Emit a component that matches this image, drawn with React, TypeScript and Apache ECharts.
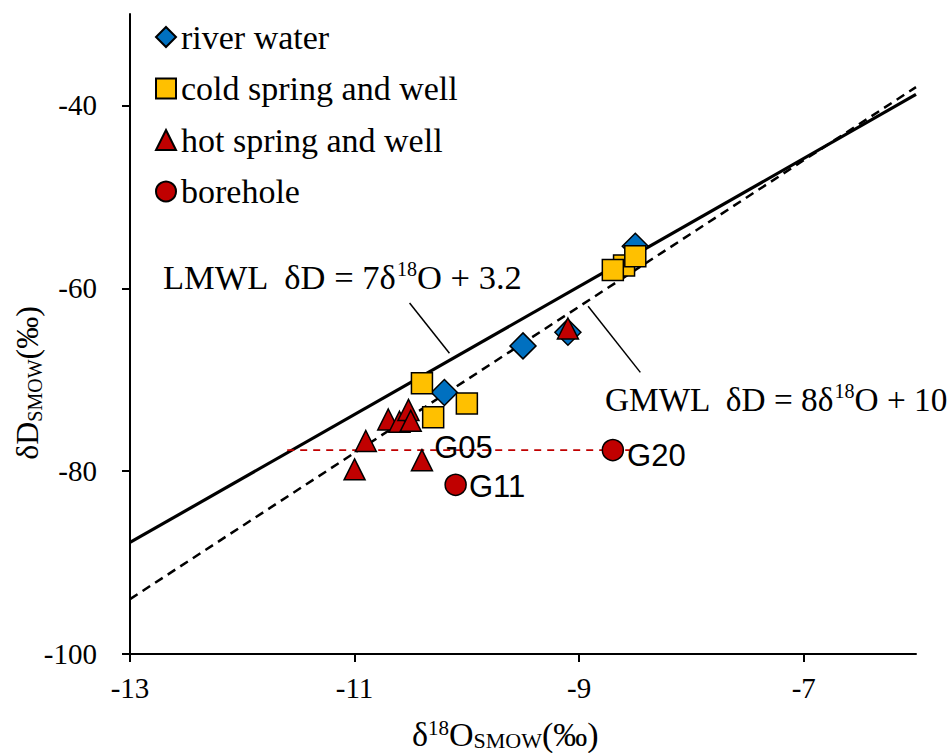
import React, { useEffect, useRef } from 'react';
import * as echarts from 'echarts';

// ---- data ----
const xTicks = [-13, -11, -9, -7];
const yTicks = [-100, -80, -60, -40];

const riverWater = [
  [-8.5, -55.4],
  [-9.5, -66.3],
  [-9.1, -64.8],
  [-10.2, -71.4],
];
const coldSpring = [
  [-10.4, -70.4],
  [-10.3, -74.1],
  [-10.0, -72.6],
  [-8.6, -57.5],
  [-8.7, -58.0],
  [-8.5, -56.5],
];
const hotSpring = [
  [-11.0, -79.8],
  [-10.9, -76.7],
  [-10.4, -78.8],
  [-10.7, -74.35],
  [-10.6, -74.6],
  [-10.52, -73.3],
  [-10.5, -74.5],
  [-9.1, -64.4],
];
const hotLabels = ['', '', 'G05', '', '', '', '', ''];
const borehole = [
  [-10.1, -81.5],
  [-8.7, -77.7],
];
const boreholeLabels = ['G11', 'G20'];

const lmwlLine = [[-13, -87.8], [-6, -38.8]];
const gmwlLine = [[-13, -94], [-6, -38]];
const g20Level = [[-11.6, -77.7], [-8.5, -77.7]];
const lmwlLeader = [[-10.51, -61.6], [-10.155, -67.1]];
const gmwlLeader = [[-8.92, -61.96], [-8.455, -69.2]];

const seriesNames = ['river water', 'cold spring and well', 'hot spring and well', 'borehole'];

// ---- styles ----
const SERIF = 'Liberation Serif';
const SANS = 'Liberation Sans';
const labelOffsets: Record<string, number[]> = {
  G05: [0, -13],
  G11: [1, 2],
  G20: [2, 5],
};

const richStyles = {
  sup: { fontSize: 20, fontFamily: SERIF, verticalAlign: 'top', lineHeight: 20, fill: '#000', color: '#000' },
  sub: { fontSize: 20, fontFamily: SERIF, verticalAlign: 'bottom', lineHeight: 20, fill: '#000', color: '#000' },
};
const richTitle = {
  sup: { fontSize: 21, fontFamily: SERIF, verticalAlign: 'top', lineHeight: 21, fill: '#000', color: '#000' },
  sub: { fontSize: 22, fontFamily: SERIF, verticalAlign: 'bottom', lineHeight: 22, fill: '#000', color: '#000' },
};

function withLabels(points: number[][], labels: string[]) {
  return points.map((p, i) =>
    labels[i]
      ? { value: p, label: { show: true, formatter: labels[i], offset: labelOffsets[labels[i]] } }
      : { value: p }
  );
}

const markerBorder = { borderColor: '#000', borderWidth: 1.5, opacity: 1 };
const pointLabel = {
  show: false,
  position: 'right',
  distance: 1,
  fontFamily: SANS,
  fontSize: 31,
  color: '#000',
  opacity: 1,
};

export default function App() {
  const ref = useRef<HTMLDivElement>(null);

  useEffect(() => {
    if (!ref.current) return;
    const chart = echarts.init(ref.current, undefined, { renderer: 'svg' });
    const option: any = {
      animation: false,
      backgroundColor: '#fff',
      grid: { left: 130, right: 35, top: 14, bottom: 99, containLabel: false },
      xAxis: {
        type: 'value',
        min: -13,
        max: -6,
        splitLine: { show: false },
        axisLine: { onZero: false, lineStyle: { color: '#000', width: 2 } },
        axisTick: { show: true, length: 8, inside: false, customValues: xTicks, lineStyle: { color: '#000', width: 2 } },
        axisLabel: { customValues: xTicks, margin: 19, fontFamily: SERIF, fontSize: 29, color: '#000' },
      },
      yAxis: {
        type: 'value',
        min: -100,
        max: -30,
        splitLine: { show: false },
        axisLine: { onZero: false, lineStyle: { color: '#000', width: 2 } },
        axisTick: { show: true, length: 8, inside: false, customValues: yTicks, lineStyle: { color: '#000', width: 2 } },
        axisLabel: { customValues: yTicks, margin: 33, fontFamily: SERIF, fontSize: 29, color: '#000' },
      },
      legend: {
        data: seriesNames,
        orient: 'vertical',
        left: 155,
        top: 20,
        padding: 0,
        itemWidth: 20,
        itemHeight: 20,
        itemGap: 17.5,
        selectedMode: false,
        textStyle: { fontFamily: SERIF, fontSize: 34, color: '#000', lineHeight: 34 },
      },
      series: [
        {
          type: 'line',
          data: lmwlLine,
          symbol: 'none',
          lineStyle: { color: '#000', width: 3.2 },
          z: 1,
          silent: true,
        },
        {
          type: 'line',
          data: gmwlLine,
          symbol: 'none',
          lineStyle: { color: '#000', width: 2.5, type: [9, 6] },
          z: 1,
          silent: true,
        },
        {
          type: 'line',
          data: g20Level,
          symbol: 'none',
          lineStyle: { color: '#c00000', width: 1.8, type: [7, 6] },
          z: 1,
          silent: true,
        },
        {
          type: 'line',
          data: lmwlLeader,
          symbol: 'none',
          lineStyle: { color: '#000', width: 1.5 },
          z: 1,
          silent: true,
        },
        {
          type: 'line',
          data: gmwlLeader,
          symbol: 'none',
          lineStyle: { color: '#000', width: 1.5 },
          z: 1,
          silent: true,
        },
        {
          name: seriesNames[0],
          type: 'scatter',
          data: riverWater,
          symbol: 'diamond',
          symbolSize: 26,
          itemStyle: { color: '#0070C0', ...markerBorder },
          z: 3,
        },
        {
          name: seriesNames[1],
          type: 'scatter',
          data: coldSpring,
          symbol: 'rect',
          symbolSize: 21,
          itemStyle: { color: '#FFC000', ...markerBorder },
          z: 4,
        },
        {
          name: seriesNames[2],
          type: 'scatter',
          data: withLabels(hotSpring, hotLabels),
          symbol: 'triangle',
          symbolSize: 21,
          itemStyle: { color: '#C00000', ...markerBorder },
          label: pointLabel,
          z: 5,
        },
        {
          name: seriesNames[3],
          type: 'scatter',
          data: withLabels(borehole, boreholeLabels),
          symbol: 'circle',
          symbolSize: 21,
          itemStyle: { color: '#C00000', ...markerBorder },
          label: pointLabel,
          z: 5,
        },
      ],
      graphic: [
        {
          type: 'text',
          x: 163,
          y: 277,
          style: {
            text: 'LMWL  δD = 7δ{sup|18}O + 3.2',
            fontFamily: SERIF,
            fontSize: 34.5,
            lineHeight: 36,
            fill: '#000',
            verticalAlign: 'middle',
            rich: richStyles,
          },
        },
        {
          type: 'text',
          x: 605,
          y: 399,
          style: {
            text: 'GMWL  δD = 8δ{sup|18}O + 10',
            fontFamily: SERIF,
            fontSize: 33.3,
            lineHeight: 36,
            fill: '#000',
            verticalAlign: 'middle',
            rich: richStyles,
          },
        },
        {
          type: 'text',
          x: 412,
          y: 734,
          style: {
            text: 'δ{sup|18}O{sub|SMOW}(‰)',
            fontFamily: SERIF,
            fontSize: 34,
            lineHeight: 34,
            fill: '#000',
            verticalAlign: 'middle',
            rich: richTitle,
          },
        },
        {
          type: 'text',
          x: 27,
          y: 383,
          rotation: Math.PI / 2,
          style: {
            text: 'δD{sub|SMOW}(‰)',
            fontFamily: SERIF,
            fontSize: 32,
            lineHeight: 36,
            fill: '#000',
            align: 'center',
            verticalAlign: 'middle',
            rich: richStyles,
          },
        },
      ],
    };
    chart.setOption(option);
    return () => chart.dispose();
  }, []);

  return (
    <div
      ref={ref}
      style={{ position: 'fixed', left: 0, top: 0, width: 951, height: 753 }}
    />
  );
}
